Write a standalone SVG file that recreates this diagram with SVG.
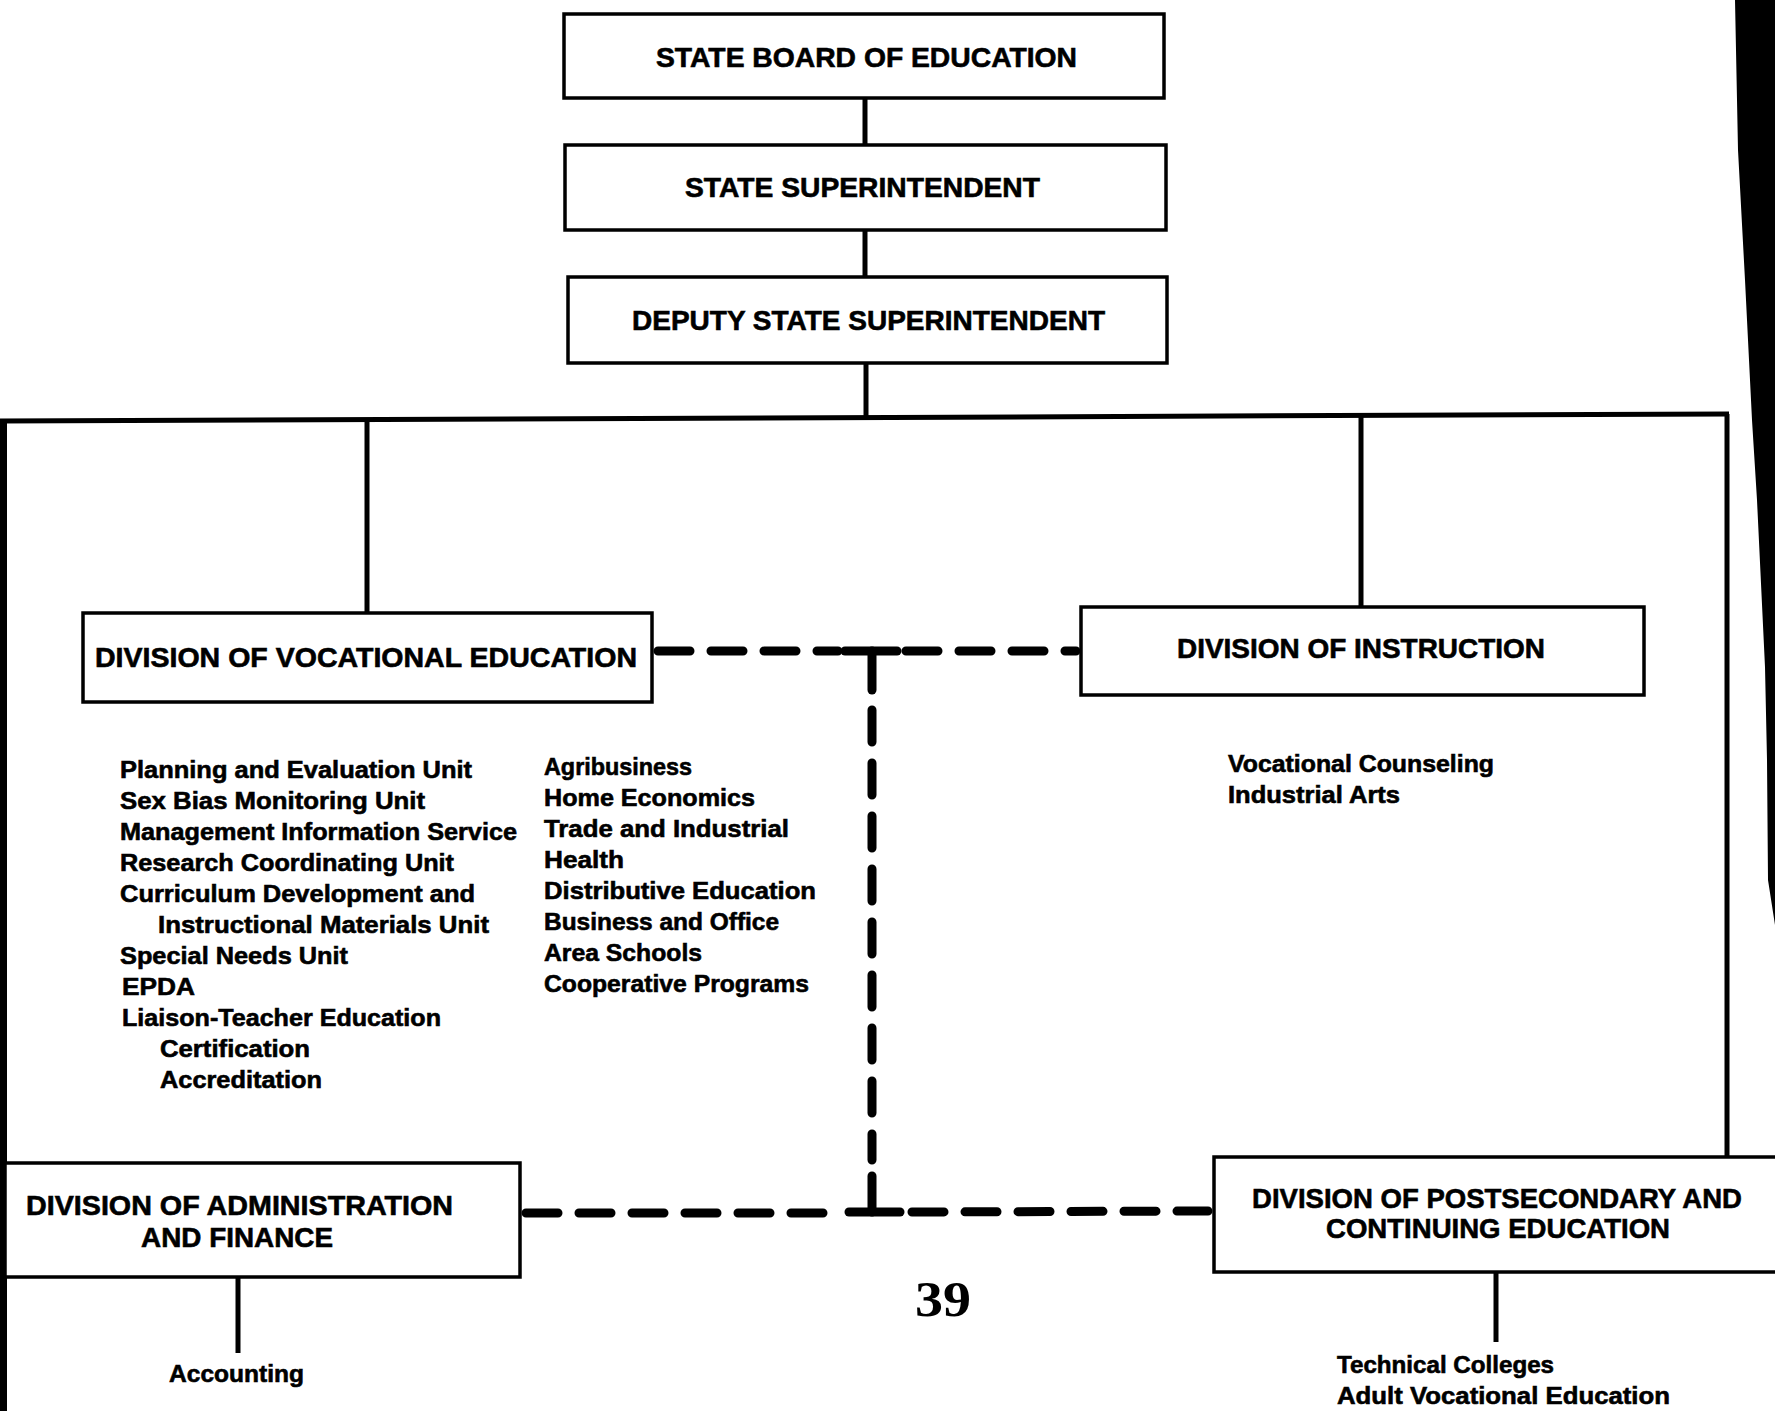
<svg xmlns="http://www.w3.org/2000/svg" width="1775" height="1411" viewBox="0 0 1775 1411">
  <style>
    .box { fill: #ffffff; stroke: #000000; stroke-width: 3.5; }
    .line { stroke: #000000; stroke-width: 5; fill: none; }
    .dash { stroke: #000000; stroke-width: 9; fill: none; stroke-linecap: round; stroke-dasharray: 32 21; }
    .bar { stroke: #000000; stroke-width: 9; stroke-linecap: round; fill: none; }
    .head { font-family: "Liberation Sans", Arial, sans-serif; font-weight: bold; font-size: 28px; fill: #000000; stroke: #000000; stroke-width: 0.6; }
    .item { font-family: "Liberation Sans", Arial, sans-serif; font-weight: bold; font-size: 24px; fill: #000000; stroke: #000000; stroke-width: 0.6; }
    .page { font-family: "Liberation Serif", "Times New Roman", serif; font-weight: bold; font-size: 50px; fill: #000000; }
  </style>
  <rect x="0" y="0" width="1775" height="1411" fill="#ffffff"/>

  <!-- dark scanned page edge at the upper right -->
  <path d="M1735,0 L1775,0 L1775,925 L1768,880 L1767,760 L1765,667 L1757,500 L1752,420 L1745,280 L1738,150 Z" fill="#000000"/>

  <g id="connectors">
    <!-- top chain -->
    <line class="line" x1="865" y1="98" x2="865" y2="145"/>
    <line class="line" x1="865" y1="230" x2="865" y2="277"/>
    <line class="line" x1="866" y1="363" x2="866" y2="418"/>
    <!-- main bus -->
    <line class="line" x1="0" y1="421" x2="1729" y2="414"/>
    <rect x="0" y="419" width="7" height="992" fill="#000000"/>
    <line class="line" x1="1727" y1="414" x2="1727" y2="1157"/>
    <line class="line" x1="367" y1="420" x2="367" y2="613"/>
    <line class="line" x1="1361" y1="415" x2="1361" y2="607"/>
    <!-- dotted-line relationships -->
    <line class="dash" x1="658" y1="651" x2="838" y2="651"/>
    <line class="dash" x1="906" y1="651" x2="1076" y2="651"/>
    <line class="bar" x1="845" y1="651" x2="897" y2="651"/>
    <line class="bar" x1="872" y1="651" x2="872" y2="690"/>
    <line class="dash" x1="872" y1="710" x2="872" y2="1160"/>
    <line class="bar" x1="872" y1="1176" x2="872" y2="1212"/>
    <line class="bar" x1="849" y1="1212" x2="900" y2="1212"/>
    <line class="dash" x1="526" y1="1213" x2="836" y2="1213"/>
    <line class="dash" x1="912" y1="1212" x2="1208" y2="1211"/>
    <!-- branches below lower divisions -->
    <line class="line" x1="238" y1="1277" x2="238" y2="1353"/>
    <line class="line" x1="1496" y1="1272" x2="1496" y2="1342"/>
  </g>

  <g id="state-board">
    <rect class="box" x="564" y="14" width="600" height="84"/>
    <text class="head" x="656" y="67" textLength="421" lengthAdjust="spacingAndGlyphs">STATE BOARD OF EDUCATION</text>
  </g>

  <g id="state-superintendent">
    <rect class="box" x="565" y="145" width="601" height="85"/>
    <text class="head" x="685" y="197" textLength="355" lengthAdjust="spacingAndGlyphs">STATE SUPERINTENDENT</text>
  </g>

  <g id="deputy-superintendent">
    <rect class="box" x="568" y="277" width="599" height="86"/>
    <text class="head" x="632" y="330" textLength="473" lengthAdjust="spacingAndGlyphs">DEPUTY STATE SUPERINTENDENT</text>
  </g>

  <g id="vocational-education">
    <rect class="box" x="83" y="613" width="569" height="89"/>
    <text class="head" x="95" y="667" textLength="542" lengthAdjust="spacingAndGlyphs">DIVISION OF VOCATIONAL EDUCATION</text>
    <g class="item">
      <text x="120" y="778" textLength="352" lengthAdjust="spacingAndGlyphs">Planning and Evaluation Unit</text>
      <text x="120" y="809" textLength="305" lengthAdjust="spacingAndGlyphs">Sex Bias Monitoring Unit</text>
      <text x="120" y="840" textLength="397" lengthAdjust="spacingAndGlyphs">Management Information Service</text>
      <text x="120" y="871" textLength="334" lengthAdjust="spacingAndGlyphs">Research Coordinating Unit</text>
      <text x="120" y="902" textLength="355" lengthAdjust="spacingAndGlyphs">Curriculum Development and</text>
      <text x="158" y="933" textLength="331" lengthAdjust="spacingAndGlyphs">Instructional Materials Unit</text>
      <text x="120" y="964" textLength="228" lengthAdjust="spacingAndGlyphs">Special Needs Unit</text>
      <text x="122" y="995" textLength="73" lengthAdjust="spacingAndGlyphs">EPDA</text>
      <text x="122" y="1026" textLength="319" lengthAdjust="spacingAndGlyphs">Liaison-Teacher Education</text>
      <text x="160" y="1057" textLength="150" lengthAdjust="spacingAndGlyphs">Certification</text>
      <text x="160" y="1088" textLength="162" lengthAdjust="spacingAndGlyphs">Accreditation</text>

      <text x="544" y="775" textLength="148" lengthAdjust="spacingAndGlyphs">Agribusiness</text>
      <text x="544" y="806" textLength="211" lengthAdjust="spacingAndGlyphs">Home Economics</text>
      <text x="544" y="837" textLength="245" lengthAdjust="spacingAndGlyphs">Trade and Industrial</text>
      <text x="544" y="868" textLength="80" lengthAdjust="spacingAndGlyphs">Health</text>
      <text x="544" y="899" textLength="272" lengthAdjust="spacingAndGlyphs">Distributive Education</text>
      <text x="544" y="930" textLength="235" lengthAdjust="spacingAndGlyphs">Business and Office</text>
      <text x="544" y="961" textLength="158" lengthAdjust="spacingAndGlyphs">Area Schools</text>
      <text x="544" y="992" textLength="265" lengthAdjust="spacingAndGlyphs">Cooperative Programs</text>
    </g>
  </g>

  <g id="instruction">
    <rect class="box" x="1081" y="607" width="563" height="88"/>
    <text class="head" x="1177" y="658" textLength="368" lengthAdjust="spacingAndGlyphs">DIVISION OF INSTRUCTION</text>
    <g class="item">
      <text x="1228" y="772" textLength="266" lengthAdjust="spacingAndGlyphs">Vocational Counseling</text>
      <text x="1228" y="803" textLength="172" lengthAdjust="spacingAndGlyphs">Industrial Arts</text>
    </g>
  </g>

  <g id="administration-finance">
    <rect class="box" x="5" y="1163" width="515" height="114"/>
    <text class="head" x="26" y="1215" textLength="427" lengthAdjust="spacingAndGlyphs">DIVISION OF ADMINISTRATION</text>
    <text class="head" x="141" y="1247" textLength="192" lengthAdjust="spacingAndGlyphs">AND FINANCE</text>
    <text class="item" x="169" y="1382" textLength="135" lengthAdjust="spacingAndGlyphs">Accounting</text>
  </g>

  <g id="postsecondary-continuing">
    <rect class="box" x="1214" y="1157" width="580" height="115"/>
    <text class="head" x="1252" y="1208" textLength="490" lengthAdjust="spacingAndGlyphs">DIVISION OF POSTSECONDARY AND</text>
    <text class="head" x="1326" y="1238" textLength="344" lengthAdjust="spacingAndGlyphs">CONTINUING EDUCATION</text>
    <g class="item">
      <text x="1337" y="1373" textLength="217" lengthAdjust="spacingAndGlyphs">Technical Colleges</text>
      <text x="1337" y="1404" textLength="333" lengthAdjust="spacingAndGlyphs">Adult Vocational Education</text>
    </g>
  </g>

  <text class="page" x="915" y="1316" textLength="56" lengthAdjust="spacingAndGlyphs">39</text>
</svg>
